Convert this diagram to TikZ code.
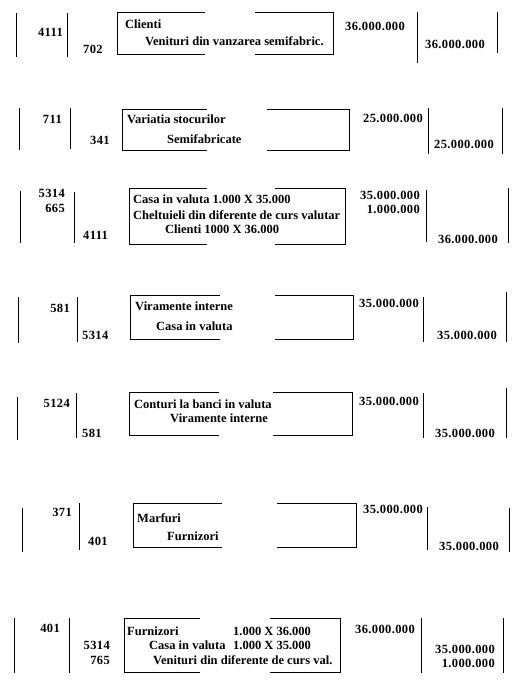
\documentclass[tikz,border=0pt]{standalone}
\usepackage{fontspec}
\setmainfont{Liberation Serif}
\newfontfamily\numfont[LetterSpace=3]{Liberation Serif}
\begin{document}
\begin{tikzpicture}[x=1pt,y=-1pt,
  vl/.style={line width=1pt},
  bx/.style={line width=1pt},
  gapfill/.style={fill=white},
  txt/.style={inner sep=0pt, font=\bfseries\fontsize{12.5}{14}\selectfont},
  numtxt/.style={inner sep=0pt, font=\numfont\bfseries\fontsize{12.5}{14}\selectfont},
  tl/.style={txt, anchor=base west},
  tr/.style={numtxt, anchor=base east},
  nl/.style={numtxt, anchor=base west}]
\useasboundingbox[fill=white] (0,0) rectangle (532,697);

% ---------- Block 1
\draw[vl] (16,13)--(16,57); \draw[vl] (67,13)--(67,57);
\draw[vl] (417,12)--(417,63); \draw[vl] (497,12)--(497,53);
\draw[bx] (117,12) rectangle (333,54);
\fill[gapfill] (205,9) rectangle (255,57);
\node[tr] (d1) at (63,36) {4111};
\node[nl] (c1) at (83,53) {702};
\node[tl] (t1a) at (125,28) {Clienti};
\node[tl] (t1b) at (145,45) {Venituri din vanzarea semifabric.};
\node[tr] (s1) at (405,30) {36.000.000};
\node[tr] (r1) at (485,48) {36.000.000};

% ---------- Block 2
\draw[vl] (19,108)--(19,150); \draw[vl] (70,108)--(70,149);
\draw[vl] (428,108)--(428,154); \draw[vl] (502,108)--(502,154);
\draw[bx] (122,109) rectangle (349,150);
\fill[gapfill] (207,106) rectangle (267,153);
\node[tr] (d2) at (62,123) {711};
\node[nl] (c2) at (90,144) {341};
\node[tl] (t2a) at (127,123) {Variatia stocurilor};
\node[tl] (t2b) at (167,143) {Semifabricate};
\node[tr] (s2) at (423,122) {25.000.000};
\node[tr] (r2) at (494,148) {25.000.000};

% ---------- Block 3
\draw[vl] (20,191)--(20,243); \draw[vl] (74,192)--(74,243);
\draw[vl] (426,190)--(426,242); \draw[vl] (508,188)--(508,243);
\draw[bx] (129,188) rectangle (345,244);
\fill[gapfill] (207,185) rectangle (275,247);
\node[tr] (d3a) at (65,197) {5314};
\node[tr] (d3b) at (65,212) {665};
\node[nl] (c3) at (83,239) {4111};
\node[tl] (t3a) at (133,203) {Casa in valuta 1.000 X 35.000};
\node[tl] (t3b) at (133,219) {Cheltuieli din diferente de curs valutar};
\node[tl] (t3c) at (165,233) {Clienti 1000 X 36.000};
\node[tr] (s3a) at (420,199) {35.000.000};
\node[tr] (s3b) at (420,213) {1.000.000};
\node[tr] (r3) at (498,243) {36.000.000};

% ---------- Block 4
\draw[vl] (18,297)--(18,343); \draw[vl] (77,297)--(77,342);
\draw[vl] (423,297)--(423,342); \draw[vl] (506,292)--(506,342);
\draw[bx] (130,295) rectangle (353,339);
\fill[gapfill] (220,292) rectangle (275,342);
\node[tr] (d4) at (70,312) {581};
\node[nl] (c4) at (82,339) {5314};
\node[tl] (t4a) at (135,310) {Viramente interne};
\node[tl] (t4b) at (156,330) {Casa in valuta};
\node[tr] (s4) at (419,307) {35.000.000};
\node[tr] (r4) at (497,339) {35.000.000};

% ---------- Block 5
\draw[vl] (17,397)--(17,440); \draw[vl] (76,393)--(76,438);
\draw[vl] (423,393)--(423,438); \draw[vl] (506,388)--(506,438);
\draw[bx] (129,392) rectangle (352,435);
\fill[gapfill] (219,389) rectangle (273,438);
\node[tr] (d5) at (70,407) {5124};
\node[nl] (c5) at (82,437) {581};
\node[tl] (t5a) at (134,408) {Conturi la banci in valuta};
\node[tl] (t5b) at (170,422) {Viramente interne};
\node[tr] (s5) at (419,405) {35.000.000};
\node[tr] (r5) at (495,437) {35.000.000};

% ---------- Block 6
\draw[vl] (22,508)--(22,552); \draw[vl] (79,503)--(79,550);
\draw[vl] (427,507)--(427,550); \draw[vl] (509,508)--(509,552);
\draw[bx] (133,503) rectangle (356,547);
\fill[gapfill] (222,500) rectangle (277,550);
\node[tr] (d6) at (72,516) {371};
\node[nl] (c6) at (88,545) {401};
\node[tl] (t6a) at (137,522) {Marfuri};
\node[tl] (t6b) at (167,540) {Furnizori};
\node[tr] (s6) at (423,513) {35.000.000};
\node[tr] (r6) at (499,550) {35.000.000};

% ---------- Block 7
\draw[vl] (14,618)--(14,673); \draw[vl] (69,618)--(69,673);
\draw[vl] (421,618)--(421,673); \draw[vl] (503,618)--(503,673);
\draw[bx] (124,618) rectangle (340,672);
\fill[gapfill] (200,615) rectangle (270,675);
\node[tr] (d7) at (60,632) {401};
\node[tr] (c7a) at (110,649) {5314};
\node[tr] (c7b) at (110,664) {765};
\node[tl] (t7a) at (127,635) {Furnizori};
\node[tl] (t7a2) at (233,635) {1.000 X 36.000};
\node[tl] (t7b) at (149,649) {Casa in valuta};
\node[tl] (t7b2) at (233,649) {1.000 X 35.000};
\node[tl] (t7c) at (153,664) {Venituri din diferente de curs val.};
\node[tr] (s7) at (415,633) {36.000.000};
\node[tr] (r7a) at (495,653) {35.000.000};
\node[tr] (r7b) at (495,667) {1.000.000};
\end{tikzpicture}
\end{document}
